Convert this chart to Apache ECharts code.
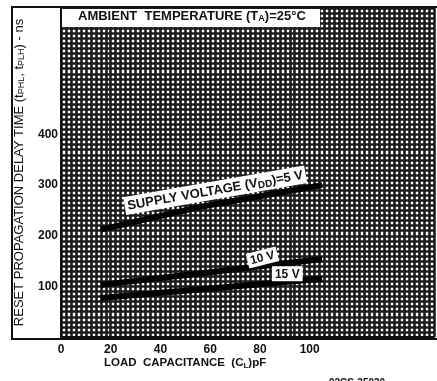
<!DOCTYPE html>
<html>
<head>
<meta charset="utf-8">
<script src="https://cdn.jsdelivr.net/npm/echarts@6/dist/echarts.min.js"></script>
<style>
  html, body { margin: 0; padding: 0; background: #fff; }
  #chart { width: 437px; height: 381px; }
</style>
</head>
<body>
<div id="chart"></div>
<script>
// load capacitance (pF) vs reset propagation delay (ns)
const capacitance5V = [16, 56, 90, 105];
const delay5V = [212, 257, 287, 300];
const capacitance10V = [16, 60, 105];
const delay10V = [103, 128, 154];
const capacitance15V = [16, 60, 105];
const delay15V = [77, 96, 115];

const xTickLabels = [0, 20, 40, 60, 80, 100];
const yTickLabels = [100, 200, 300, 400];

const ink = '#111';
const gridInk = '#1c1c1c';
const font = 'Liberation Sans';

function pairs(xs, ys) {
    let out = [];
    for (let i = 0; i < xs.length; i++) out.push([xs[i], ys[i]]);
    return out;
}

function lineLabel(x, y, text, rotate, size) {
    return {
        coord: [x, y],
        symbol: 'rect',
        symbolSize: 1,
        itemStyle: { color: 'rgba(0,0,0,0)' },
        label: {
            show: true,
            position: 'inside',
            formatter: text,
            rotate: rotate,
            color: ink,
            fontFamily: font,
            fontWeight: 'bold',
            fontSize: size,
            backgroundColor: '#fff',
            padding: [2, 3, 1, 3],
            rich: {
                sub: { fontSize: size - 3, fontWeight: 'bold', color: ink, padding: [5, 0, 0, 0] }
            }
        }
    };
}

const chart = echarts.init(document.getElementById('chart'));

let option = {
    animation: false,
    backgroundColor: '#fff',
    grid: { left: 61, right: 2, top: 8, bottom: 44 },
    xAxis: {
        type: 'value',
        min: 0,
        max: 150,
        interval: 2,
        axisLine: { show: true, lineStyle: { color: ink, width: 2 } },
        axisTick: { show: false },
        splitLine: { show: true, lineStyle: { color: gridInk, width: 2.6 } },
        axisLabel: {
            margin: 7,
            color: ink,
            fontFamily: font,
            fontWeight: 'bold',
            fontSize: 12,
            formatter: v => xTickLabels.includes(v) ? String(v) : ''
        }
    },
    yAxis: {
        type: 'value',
        min: 0,
        max: 650,
        interval: 10,
        axisLine: { show: true, lineStyle: { color: ink, width: 2 } },
        axisTick: { show: false },
        splitLine: { show: true, lineStyle: { color: gridInk, width: 2.6 } },
        axisLabel: {
            margin: 3,
            color: ink,
            fontFamily: font,
            fontWeight: 'bold',
            fontSize: 12,
            formatter: v => yTickLabels.includes(v) ? String(v) : ''
        },
        name: 'RESET PROPAGATION DELAY TIME (t{s|PHL}, t{s|PLH}) - ns',
        nameLocation: 'middle',
        nameRotate: 90,
        nameGap: 35,
        nameTextStyle: {
            color: ink,
            fontFamily: font,
            fontSize: 13,
            rich: { s: { fontSize: 9, color: ink, fontFamily: font, padding: [5, 0, 0, 0] } }
        }
    },
    series: [
        {
            name: '5 V',
            type: 'line',
            data: pairs(capacitance5V, delay5V),
            showSymbol: false,
            lineStyle: { color: '#000', width: 6 },
            z: 3,
            markPoint: {
                z: 5,
                data: [lineLabel(62, 290, 'SUPPLY VOLTAGE (V{sub|DD})=5 V', 10, 13)]
            }
        },
        {
            name: '10 V',
            type: 'line',
            data: pairs(capacitance10V, delay10V),
            showSymbol: false,
            lineStyle: { color: '#000', width: 6 },
            z: 3,
            markPoint: {
                z: 5,
                data: [lineLabel(81, 157, '10 V', 14, 12)]
            }
        },
        {
            name: '15 V',
            type: 'line',
            data: pairs(capacitance15V, delay15V),
            showSymbol: false,
            lineStyle: { color: '#000', width: 6 },
            z: 3,
            markPoint: {
                z: 5,
                data: [lineLabel(91, 125, '15 V', 0, 12)]
            }
        }
    ],
    graphic: [
        // outer frame of the plate
        { type: 'polyline', shape: { points: [[437, 7], [12, 7], [12, 339], [437, 339]] },
          style: { stroke: ink, lineWidth: 2, fill: null }, z: 10 },
        // title band
        { type: 'rect', shape: { x: 62, y: 9, width: 258, height: 18 }, style: { fill: '#fff' }, z: 10 },
        { type: 'text', left: 78, top: 10, z: 11,
          style: { text: 'AMBIENT  TEMPERATURE (T{s|A})=25°C', fill: ink, font: 'bold 13px "Liberation Sans"',
                   rich: { s: { fontSize: 9, fontWeight: 'bold', fill: ink, padding: [5, 0, 0, 0] } } } },
        { type: 'text', left: 104, top: 357, z: 11,
          style: { text: 'LOAD  CAPACITANCE  (C{s|L})pF', fill: ink, font: 'bold 11.5px "Liberation Sans"',
                   rich: { s: { fontSize: 8, fontWeight: 'bold', fill: ink, padding: [5, 0, 0, 0] } } } },
        { type: 'text', left: 329, top: 378, z: 11,
          style: { text: '92CS-35030', fill: ink, font: 'bold 10px "Liberation Sans"' } }
    ]
};

chart.setOption(option);
</script>
</body>
</html>
